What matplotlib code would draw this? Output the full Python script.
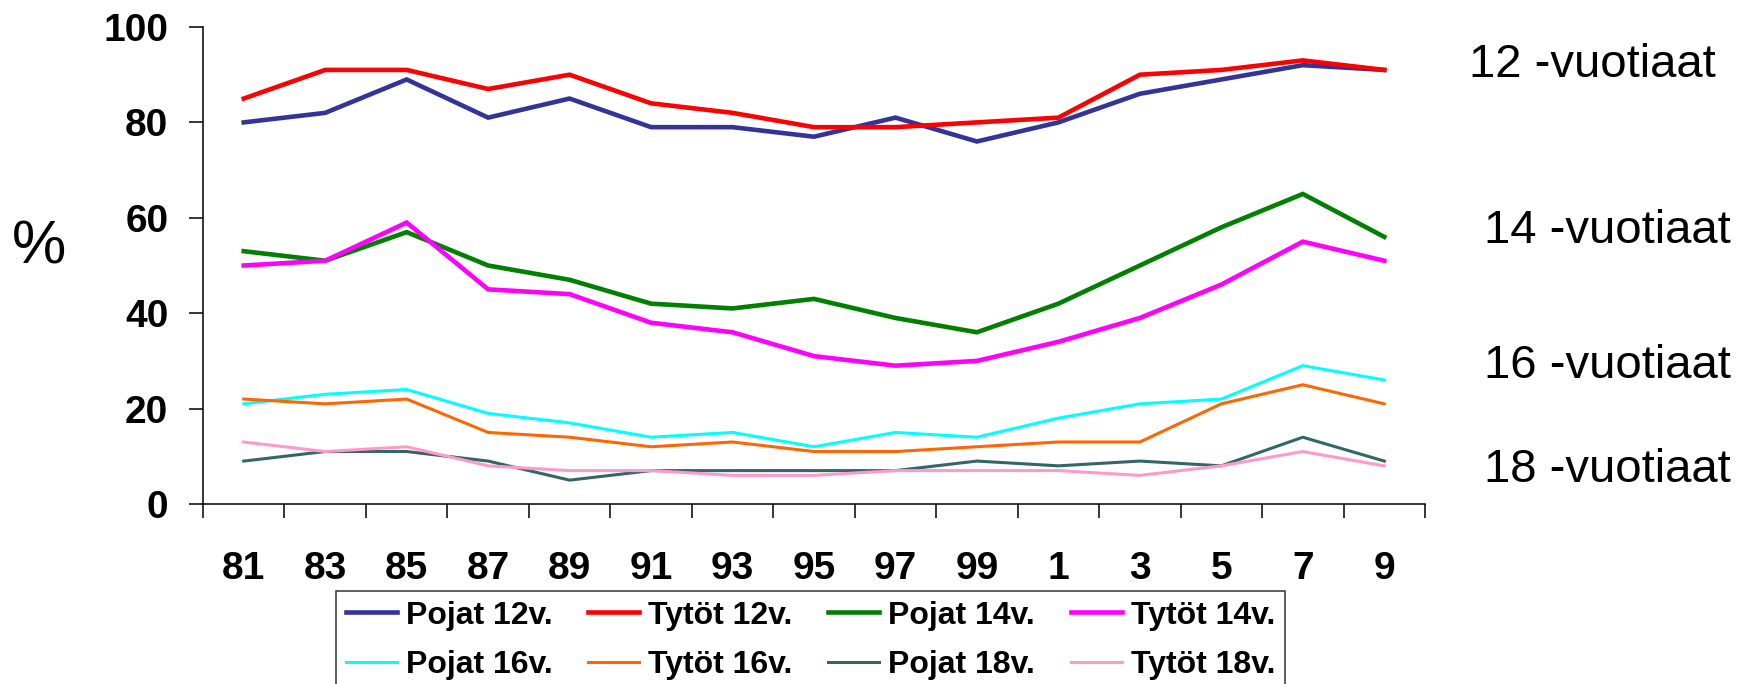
import numpy as np
import matplotlib
matplotlib.use("Agg")
import matplotlib.pyplot as plt

plt.rcParams['font.family'] = ['Liberation Sans', 'DejaVu Sans']

years = ['81', '83', '85', '87', '89', '91', '93', '95', '97', '99', '1', '3', '5', '7', '9']

pojat12 = [80, 82, 89, 81, 85, 79, 79, 77, 81, 76, 80, 86, 89, 92, 91]
tytot12 = [85, 91, 91, 87, 90, 84, 82, 79, 79, 80, 81, 90, 91, 93, 91]
pojat14 = [53, 51, 57, 50, 47, 42, 41, 43, 39, 36, 42, 50, 58, 65, 56]
tytot14 = [50, 51, 59, 45, 44, 38, 36, 31, 29, 30, 34, 39, 46, 55, 51]
pojat16 = [21, 23, 24, 19, 17, 14, 15, 12, 15, 14, 18, 21, 22, 29, 26]
tytot16 = [22, 21, 22, 15, 14, 12, 13, 11, 11, 12, 13, 13, 21, 25, 21]
pojat18 = [9, 11, 11, 9, 5, 7, 7, 7, 7, 9, 8, 9, 8, 14, 9]
tytot18 = [13, 11, 12, 8, 7, 7, 6, 6, 7, 7, 7, 6, 8, 11, 8]

series = [
    ('Pojat 12v.', pojat12, '#333399', 3.3),
    ('Tytöt 12v.', tytot12, '#FF0000', 3.3),
    ('Pojat 14v.', pojat14, '#008000', 3.3),
    ('Tytöt 14v.', tytot14, '#FF00FF', 3.3),
    ('Pojat 16v.', pojat16, '#00FFFF', 2.2),
    ('Tytöt 16v.', tytot16, '#FF6600', 2.2),
    ('Pojat 18v.', pojat18, '#336666', 2.2),
    ('Tytöt 18v.', tytot18, '#FF99CC', 2.2),
]

age_labels = ['12 -vuotiaat', '14 -vuotiaat', '16 -vuotiaat', '18 -vuotiaat']

fig = plt.figure(figsize=(17.5, 6.84), dpi=100)
ax = fig.add_axes([203/1750, 1-504/684, (1425-203)/1750, (504-27)/684])

x = np.arange(len(years))
lines = []
for name, vals, col, lw in series:
    ln, = ax.plot(x, vals, color=col, lw=lw, label=name, solid_joinstyle='miter')
    lines.append(ln)

ax.set_xlim(-0.5, len(years) - 0.5)
ax.set_ylim(0, 100)
ax.spines['top'].set_visible(False)
ax.spines['right'].set_visible(False)
for s in ['left', 'bottom']:
    ax.spines[s].set_linewidth(1.1)

ax.set_yticks(range(0, 101, 20))
ax.tick_params(axis='y', direction='out', length=10, width=1.1, pad=15,
               labelsize=28)
for t in ax.get_yticklabels():
    t.set_fontweight('bold')

ax.set_xticks(np.arange(-0.5, len(years)), labels=[])
ax.set_xticks(x, minor=True)
ax.set_xticklabels(years, minor=True, fontsize=28, fontweight='bold')
ax.tick_params(axis='x', which='major', direction='out', length=10, width=1.1)
ax.tick_params(axis='x', which='minor', length=0, pad=34)

fig.text(39/1750, 1-248/684, '%', fontsize=44, ha='center', va='center')

age_pos = [(1469, 65), (1484, 231), (1484, 366), (1484, 470)]
for lab, (px, py) in zip(age_labels, age_pos):
    fig.text(px/1750, 1-py/684, lab, fontsize=34, ha='left', va='center')

# legend fills column by column, so reorder to get the row-wise layout
order = [0, 4, 1, 5, 2, 6, 3, 7]
leg = fig.legend([lines[i] for i in order], [series[i][0] for i in order],
                 loc='upper left', bbox_to_anchor=(336/1750, 1-591/684),
                 ncol=4, frameon=True, fancybox=False, edgecolor='black',
                 borderaxespad=0, borderpad=0.3, handlelength=1.6,
                 handletextpad=0.28, columnspacing=1.12, labelspacing=0.6,
                 prop={'size': 23, 'weight': 'bold'})
leg.get_frame().set_linewidth(1.1)

fig.savefig('out.png', dpi=100)
